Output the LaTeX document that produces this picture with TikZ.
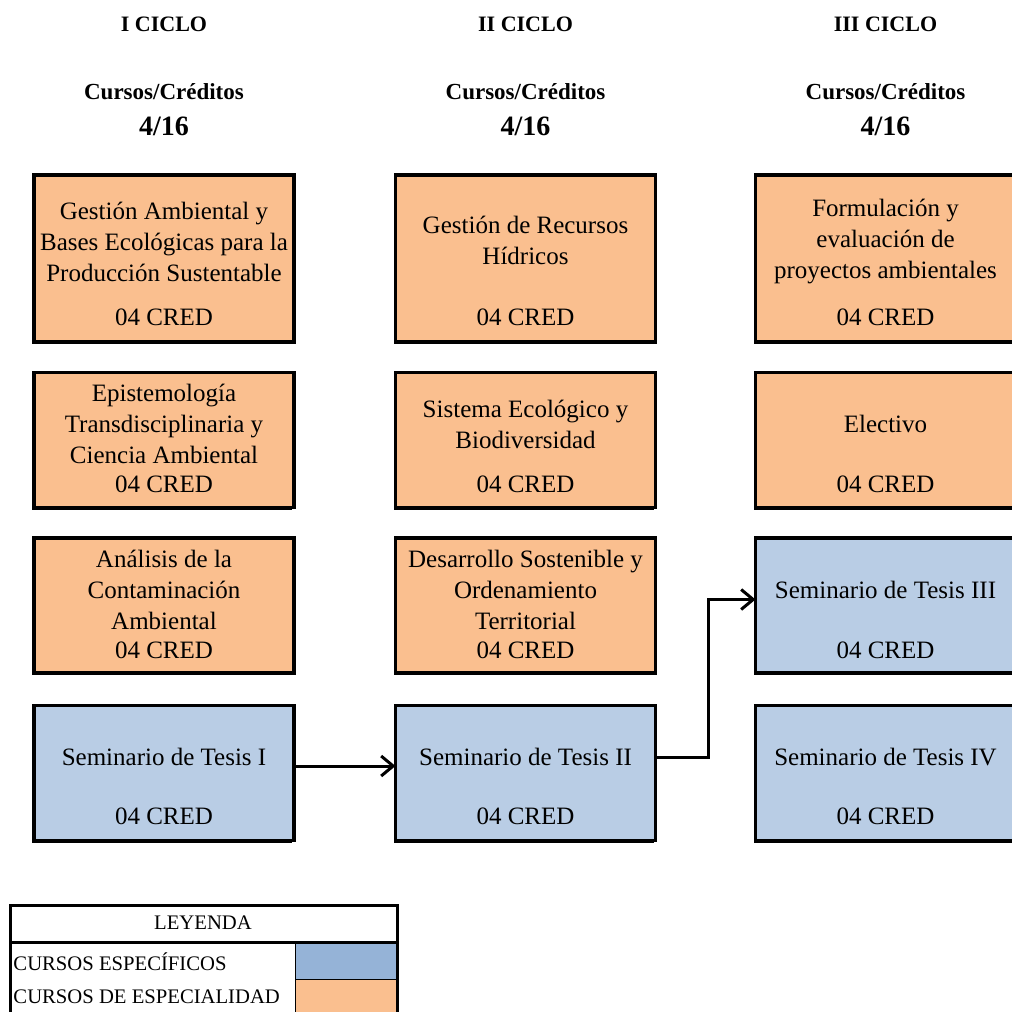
\documentclass[tikz,border=0pt]{standalone}
\usepackage{fontspec}
\setmainfont{Liberation Serif}
\usetikzlibrary{arrows.meta,shadows,calc}

\definecolor{naranjacurso}{RGB}{250,191,143}
\definecolor{azulcurso}{RGB}{185,205,229}
\definecolor{azulleyenda}{RGB}{149,179,215}

\tikzset{every picture/.style={line width=0.75pt}}
\tikzset{
  curso/.style={draw, line width=2.5pt, inner sep=0pt, outer sep=0pt,
    minimum width=195pt, minimum height=101.25pt,
    drop shadow={fill=black, opacity=1, shadow xshift=-1.5pt, shadow yshift=-1.5pt}},
  especialidad/.style={curso, fill=naranjacurso},
  especifico/.style={curso, fill=azulcurso},
  titulo/.style={align=center, inner sep=0pt, font=\fontsize{18.75}{23.25}\selectfont},
  cred/.style={inner sep=0pt, font=\fontsize{18.75}{23.25}\selectfont},
  ciclo/.style={font=\bfseries\fontsize{16.5}{20}\selectfont},
  cursos/.style={font=\bfseries\fontsize{17.25}{20}\selectfont},
  numero/.style={font=\bfseries\fontsize{21}{24}\selectfont},
  leyenda/.style={inner sep=0pt, font=\fontsize{15.5}{18}\selectfont},
  flecha/.style={line width=2.25pt, -{Straight Barb[length=9pt,width=15pt,line width=2.25pt]}}
}

\begin{document}
\begin{tikzpicture}[x=0.75pt,y=0.75pt,yscale=-1,xscale=1]
	\useasboundingbox (0,0) rectangle (1011,1012);

	% Text Node
	\node[ciclo] (ciclo1) at (164,24) {I CICLO};
	% Text Node
	\node[ciclo] (ciclo2) at (525.5,24) {II CICLO};
	% Text Node
	\node[ciclo] (ciclo3) at (885.5,24) {III CICLO};
	% Text Node
	\node[cursos] (cursos1) at (164,92) {Cursos/Créditos};
	% Text Node
	\node[cursos] (cursos2) at (525.5,92) {Cursos/Créditos};
	% Text Node
	\node[cursos] (cursos3) at (885.5,92) {Cursos/Créditos};
	% Text Node
	\node[numero] (num1) at (164,126) {4/16};
	% Text Node
	\node[numero] (num2) at (525.5,126) {4/16};
	% Text Node
	\node[numero] (num3) at (885.5,126) {4/16};

	%Shape: Rectangle, I ciclo
	\node[especialidad, minimum height=125.25pt] (gestion) at (164,258.5) {};
	\node[especialidad] (episte) at (164,440) {};
	\node[especialidad] (analisis) at (164,605.5) {};
	\node[especifico] (tesisI) at (164,773) {};
	%Shape: Rectangle, II ciclo
	\node[especialidad, minimum height=125.25pt] (hidricos) at (525.5,258.5) {};
	\node[especialidad] (ecologico) at (525.5,440) {};
	\node[especialidad] (desarrollo) at (525.5,605.5) {};
	\node[especifico] (tesisII) at (525.5,773) {};
	%Shape: Rectangle, III ciclo
	\node[especialidad, minimum height=125.25pt] (formulacion) at (885.5,258.5) {};
	\node[especialidad] (electivo) at (885.5,440) {};
	\node[especifico] (tesisIII) at (885.5,605.5) {};
	\node[especifico] (tesisIV) at (885.5,773) {};

	% Text Node
	\node[titulo] (gestionT) at (164,242) {Gestión Ambiental y\\Bases Ecológicas para la\\Producción Sustentable};
	\node[titulo] (episteT) at (164,424) {Epistemología\\Transdisciplinaria y\\Ciencia Ambiental};
	\node[titulo] (analisisT) at (164,590) {Análisis de la\\Contaminación\\Ambiental};
	\node[titulo] (tesisIT) at (164,757) {Seminario de Tesis I};
	\node[titulo] (hidricosT) at (525.5,240.5) {Gestión de Recursos\\Hídricos};
	\node[titulo] (ecologicoT) at (525.5,424.5) {Sistema Ecológico y\\Biodiversidad};
	\node[titulo] (desarrolloT) at (525.5,590) {Desarrollo Sostenible y\\Ordenamiento\\Territorial};
	\node[titulo] (tesisIIT) at (525.5,757) {Seminario de Tesis II};
	\node[titulo] (formulacionT) at (885.5,241.5) {Formulación y\\evaluación de\\proyectos ambientales};
	\node[titulo] (electivoT) at (885.5,424) {Electivo};
	\node[titulo] (tesisIIIT) at (885.5,590) {Seminario de Tesis III};
	\node[titulo] (tesisIVT) at (885.5,757) {Seminario de Tesis IV};

	% Text Node
	\node[cred] (gestionC) at (164,317) {04 CRED};
	\node[cred] (episteC) at (164,484) {04 CRED};
	\node[cred] (analisisC) at (164,650) {04 CRED};
	\node[cred] (tesisIC) at (164,816) {04 CRED};
	\node[cred] (hidricosC) at (525.5,317) {04 CRED};
	\node[cred] (ecologicoC) at (525.5,484) {04 CRED};
	\node[cred] (desarrolloC) at (525.5,650) {04 CRED};
	\node[cred] (tesisIIC) at (525.5,816) {04 CRED};
	\node[cred] (formulacionC) at (885.5,317) {04 CRED};
	\node[cred] (electivoC) at (885.5,484) {04 CRED};
	\node[cred] (tesisIIIC) at (885.5,650) {04 CRED};
	\node[cred] (tesisIVC) at (885.5,816) {04 CRED};

	%Straight Lines
	\draw[flecha] ($(tesisI.east)+(0,-7)$) -- ($(tesisII.west)+(0,-7)$);
	%Straight Lines
	\draw[flecha] ($(tesisII.east)+(0,-16)$) -- ++(53,0) |- ($(tesisIII.west)+(0,-6)$);

	%Shape: Table, leyenda
	\fill[azulleyenda] (295,942) rectangle (397,979);
	\fill[naranjacurso] (295,979) rectangle (397,1015);
	\draw (295,942) -- (295,1015);
	\draw (295,979) -- (397,979);
	\draw[line width=2.25pt] (10,1015) -- (10,905) -- (397,905) -- (397,1015);
	\draw[line width=2.25pt] (10,942) -- (397,942);

	% Text Node
	\node[leyenda] (leyendaT) at (203,923) {LEYENDA};
	\node[leyenda, anchor=west] (especificoT) at (13,962) {CURSOS ESPECÍFICOS};
	\node[leyenda, anchor=west] (especialidadT) at (13,997) {CURSOS DE ESPECIALIDAD};

\end{tikzpicture}
\end{document}
